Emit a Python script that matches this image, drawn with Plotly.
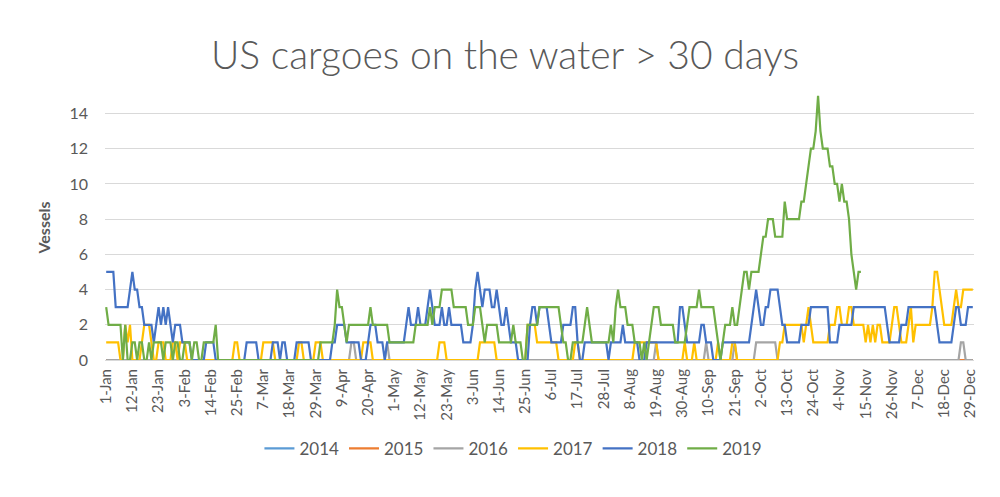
import plotly.graph_objects as go

# daily values as (value, number of days) runs
runs_2016 = [(0, 103), (1, 2), (0, 13), (1, 1), (0, 112), (1, 1), (0, 20), (1, 1), (0, 11),
             (1, 1), (0, 8), (1, 9), (0, 77), (1, 2), (0, 4)]

runs_2017 = [(1, 6), (0, 2), (2, 1), (1, 1), (2, 1), (0, 4), (1, 1), (2, 3), (1, 1), (0, 2),
             (1, 3), (0, 3), (1, 2), (0, 1), (1, 3), (0, 20), (1, 2), (0, 10), (1, 5), (0, 10),
             (1, 2), (0, 5), (1, 3), (0, 17), (1, 4), (0, 28), (1, 3), (0, 14), (1, 7), (0, 13),
             (2, 4), (1, 9), (0, 7), (1, 2), (0, 23), (1, 10), (0, 11), (1, 1), (0, 3), (1, 1),
             (0, 9), (1, 1), (0, 5), (1, 2), (0, 18), (1, 2), (2, 8), (1, 1), (2, 1), (3, 1),
             (2, 1), (1, 7), (2, 3), (3, 2), (2, 3), (3, 2), (2, 5), (1, 1), (2, 1), (1, 1),
             (2, 1), (1, 1), (2, 2), (1, 4), (2, 1), (3, 2), (2, 1), (1, 3), (2, 1), (3, 1),
             (1, 1), (2, 7), (3, 1), (5, 2), (4, 1), (3, 1), (2, 4), (3, 1), (4, 1), (3, 2),
             (4, 5)]

runs_2018 = [(5, 4), (3, 6), (4, 1), (5, 1), (4, 2), (3, 2), (2, 4), (1, 1), (2, 1), (3, 1),
             (2, 1), (3, 1), (2, 1), (3, 1), (2, 1), (1, 1), (2, 3), (1, 4), (0, 6), (1, 4),
             (0, 13), (1, 5), (0, 6), (1, 3), (0, 1), (1, 2), (0, 4), (1, 6), (0, 9), (1, 2),
             (2, 4), (1, 6), (0, 3), (1, 1), (2, 3), (1, 3), (0, 1), (1, 8), (2, 1), (3, 1),
             (2, 3), (3, 1), (2, 3), (3, 1), (4, 1), (3, 1), (2, 3), (3, 1), (2, 2), (3, 1),
             (2, 5), (1, 4), (2, 1), (4, 1), (5, 1), (4, 1), (3, 1), (4, 3), (3, 2), (4, 1),
             (3, 1), (2, 2), (3, 1), (2, 1), (1, 3), (0, 5), (2, 1), (3, 2), (2, 1), (3, 4),
             (2, 1), (1, 5), (2, 4), (3, 2), (1, 1), (0, 2), (1, 10), (0, 1), (1, 5), (2, 1),
             (1, 6), (0, 3), (1, 14), (3, 2), (2, 1), (1, 6), (2, 2), (1, 3), (0, 4), (1, 12),
             (2, 1), (3, 1), (4, 1), (3, 1), (2, 2), (3, 2), (4, 4), (3, 1), (2, 2), (1, 6),
             (2, 4), (3, 8), (1, 4), (2, 6), (3, 14), (2, 1), (1, 5), (2, 3), (3, 12), (2, 1),
             (1, 6), (2, 1), (3, 2), (2, 3), (3, 3)]

runs_2019 = [(3, 1), (2, 6), (0, 1), (2, 1), (0, 2), (1, 2), (0, 1), (1, 2), (0, 2), (1, 1),
             (0, 1), (1, 4), (0, 1), (1, 3), (0, 1), (1, 2), (0, 2), (1, 3), (0, 1), (1, 2),
             (0, 2), (1, 5), (2, 1), (0, 43), (1, 6), (2, 1), (4, 1), (3, 2), (2, 1), (1, 1),
             (2, 9), (3, 1), (2, 7), (1, 11), (2, 6), (3, 1), (2, 1), (3, 3), (4, 5), (3, 6),
             (2, 3), (3, 3), (2, 1), (1, 1), (2, 5), (1, 6), (2, 1), (1, 3), (0, 2), (2, 5),
             (3, 9), (2, 1), (1, 2), (0, 2), (1, 5), (2, 1), (3, 1), (2, 1), (1, 8), (2, 1),
             (1, 1), (3, 1), (4, 1), (3, 3), (2, 3), (1, 3), (0, 1), (1, 1), (0, 1), (1, 1),
             (2, 1), (3, 3), (2, 6), (1, 5), (2, 1), (3, 4), (4, 1), (3, 6), (2, 1), (1, 1),
             (0, 1), (1, 1), (2, 3), (3, 1), (2, 2), (3, 1), (4, 1), (5, 2), (4, 1), (5, 4),
             (6, 1), (7, 2), (8, 3), (7, 4), (9, 1), (8, 6), (9, 2), (10, 1), (11, 1), (12, 2),
             (13, 1), (15, 1), (13, 1), (12, 3), (11, 2), (10, 2), (9, 1), (10, 1), (9, 2),
             (8, 1), (6, 1), (5, 1), (4, 1), (5, 2)]

tick_labels = ["1-Jan", "12-Jan", "23-Jan", "3-Feb", "14-Feb", "25-Feb", "7-Mar", "18-Mar",
               "29-Mar", "9-Apr", "20-Apr", "1-May", "12-May", "23-May", "3-Jun", "14-Jun",
               "25-Jun", "6-Jul", "17-Jul", "28-Jul", "8-Aug", "19-Aug", "30-Aug", "10-Sep",
               "21-Sep", "2-Oct", "13-Oct", "24-Oct", "4-Nov", "15-Nov", "26-Nov", "7-Dec",
               "18-Dec", "29-Dec"]

years = ["2014", "2015", "2016", "2017", "2018", "2019"]
colors = ["#5B9BD5", "#ED7D31", "#A5A5A5", "#FFC000", "#4472C4", "#70AD47"]

n_days = 365


def expand(runs):
    out = []
    for v, n in runs:
        out += [v] * n
    return out[:n_days]


series = {
    "2014": [0] * n_days,
    "2015": [0] * n_days,
    "2016": expand(runs_2016),
    "2017": expand(runs_2017),
    "2018": expand(runs_2018),
    "2019": expand(runs_2019),
}

fig = go.Figure()
for yr, col in zip(years, colors):
    vals = series[yr]
    fig.add_trace(go.Scatter(
        x=list(range(len(vals))), y=vals, mode="lines", name=yr,
        line=dict(color=col, width=2.2, shape="linear"),
    ))

font = "Lato, Calibri, Open Sans, sans-serif"
grey = "#595959"

fig.update_layout(
    width=1000, height=497,
    paper_bgcolor="white", plot_bgcolor="white",
    margin=dict(l=97, r=34, t=87, b=145),
    title=dict(text="US cargoes on the water > 30 days", x=0.497, xanchor="center",
               y=0.905, yanchor="middle",
               font=dict(family=font, size=39, color=grey, weight=300)),
    font=dict(family=font, color=grey),
    showlegend=True,
    legend=dict(orientation="h", x=0.47, xanchor="center", y=-0.335, yanchor="middle",
                font=dict(size=17, color=grey), itemwidth=30, traceorder="normal"),
    xaxis=dict(
        range=[-0.5, n_days - 0.5],
        tickmode="array",
        tickvals=[i * 11 for i in range(len(tick_labels))],
        ticktext=tick_labels,
        tickangle=-90,
        tickfont=dict(size=15, color=grey),
        ticklabelstandoff=2,
        showgrid=False, zeroline=False,
        showline=True, linecolor="#D9D9D9", linewidth=1,
        ticks="",
    ),
    yaxis=dict(
        range=[0, 15.05],
        tickmode="array", tickvals=[0, 2, 4, 6, 8, 10, 12, 14],
        tickfont=dict(size=16, color=grey),
        ticklabelstandoff=16,
        showgrid=True, gridcolor="#D9D9D9", gridwidth=1,
        zeroline=False,
        title=dict(text="<b>Vessels</b>", font=dict(size=16, color=grey), standoff=14),
        ticks="",
    ),
)

fig.write_html("out.html")
